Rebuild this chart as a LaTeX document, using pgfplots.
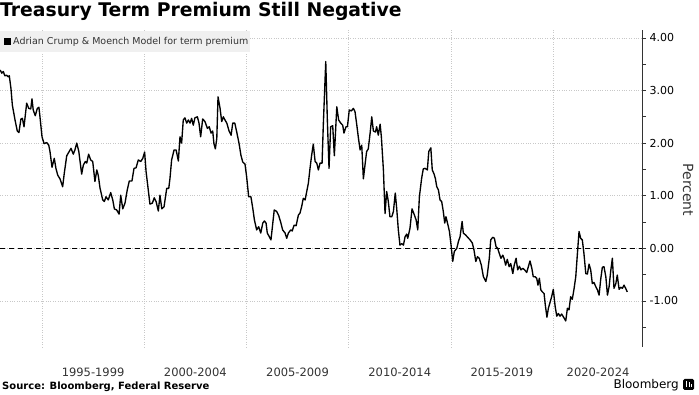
\documentclass[border=0pt]{standalone}
\usepackage{pgfplots}
\pgfplotsset{compat=1.18}
\usepackage{fontspec}
\setmainfont{DejaVu Sans}
\definecolor{gridgray}{HTML}{C8C8C8}
\definecolor{txtgray}{HTML}{333333}
\definecolor{legbg}{HTML}{F0F0F0}
\begin{document}
\begin{tikzpicture}[x=1pt,y=1pt]
\path[use as bounding box] (0,0) rectangle (699,395);
\begin{axis}[
  at={(0pt,48pt)}, anchor=south west,
  scale only axis, width=642pt, height=317pt,
  xmin=1992.945, xmax=2024.35, ymin=-1.876, ymax=4.15,
  axis y line*=right, axis x line*=bottom,
  x axis line style={draw=none},
  y axis line style={draw=black!80, line width=0.8pt},
  xtick={1995,2000,2005,2010,2015,2020}, xticklabels={},
  xtick style={draw=none},
  extra x ticks={1997.5,2002.5,2007.5,2012.5,2017.5,2022.2},
  extra x tick labels={1995-1999,2000-2004,2005-2009,2010-2014,2015-2019,2020-2024},
  extra x tick style={grid=none, tick style={draw=none}},
  xticklabel style={anchor=center, yshift=-21pt, font=\fontsize{11.5}{12}\selectfont, text=txtgray},
  ytick={-1,0,1,2,3,4},
  minor ytick={-1.5,-0.5,0.5,1.5,2.5,3.5},
  tick align=outside,
  major tick length=4pt, minor tick length=4pt,
  ytick style={draw=black!80, line width=0.6pt},
  yticklabel style={anchor=west, font=\fontsize{11}{12}\selectfont, text=black},
  yticklabel pos=right,
  /pgf/number format/.cd, fixed, fixed zerofill, precision=2, assume math mode=true,
  /pgfplots/.cd,
  xmajorgrids, ymajorgrids,
  major grid style={gridgray, dotted, line width=0.6pt},
  clip=false,
]
\draw[black, line width=0.7pt, dash pattern=on 5pt off 4pt] (axis cs:1992.945,0) -- (axis cs:2024.35,0);
\addplot[black, line width=1.35pt, line join=round] coordinates {
(1992.95,3.39)(1993.03,3.33)(1993.11,3.36)(1993.18,3.28)(1993.27,3.29)(1993.35,3.26)(1993.40,3.28)
(1993.48,3.04)(1993.55,2.72)(1993.68,2.44)(1993.79,2.23)(1993.87,2.20)(1993.97,2.46)(1994.04,2.47)
(1994.12,2.31)(1994.25,2.76)(1994.35,2.66)(1994.45,2.65)(1994.51,2.84)(1994.57,2.63)(1994.67,2.52)
(1994.77,2.66)(1994.85,2.68)(1994.90,2.50)(1995.00,2.12)(1995.10,1.99)(1995.23,2.01)(1995.33,1.96)
(1995.39,1.84)(1995.49,1.54)(1995.60,1.71)(1995.68,1.52)(1995.77,1.39)(1995.88,1.32)(1996.01,1.17)
(1996.09,1.43)(1996.21,1.76)(1996.33,1.84)(1996.42,1.90)(1996.53,1.79)(1996.61,1.87)(1996.70,2.00)
(1996.80,1.84)(1996.94,1.41)(1997.02,1.58)(1997.12,1.65)(1997.19,1.62)(1997.28,1.79)(1997.38,1.68)
(1997.48,1.65)(1997.59,1.27)(1997.68,1.49)(1997.75,1.39)(1997.84,1.14)(1997.97,0.92)(1998.05,0.89)
(1998.13,0.98)(1998.24,0.92)(1998.36,1.06)(1998.46,0.92)(1998.54,0.75)(1998.65,0.73)(1998.77,0.65)
(1998.85,1.01)(1998.95,0.75)(1999.06,0.86)(1999.17,1.11)(1999.27,1.28)(1999.40,1.28)(1999.50,1.52)
(1999.60,1.53)(1999.71,1.68)(1999.83,1.65)(1999.93,1.71)(2000.02,1.83)(2000.09,1.46)(2000.17,1.20)
(2000.28,0.84)(2000.40,0.86)(2000.49,0.96)(2000.58,0.89)(2000.69,0.71)(2000.77,1.01)(2000.86,0.75)
(2000.97,0.79)(2001.10,1.14)(2001.20,1.14)(2001.26,1.33)(2001.34,1.68)(2001.46,1.87)(2001.56,1.87)
(2001.67,1.66)(2001.75,2.12)(2001.83,2.00)(2001.91,2.44)(2001.99,2.48)(2002.08,2.38)(2002.16,2.44)
(2002.24,2.38)(2002.32,2.47)(2002.40,2.34)(2002.48,2.48)(2002.60,2.50)(2002.68,2.38)(2002.76,2.12)
(2002.86,2.46)(2002.97,2.41)(2003.09,2.28)(2003.18,2.31)(2003.27,2.19)(2003.35,2.23)(2003.41,1.99)
(2003.48,1.89)(2003.55,2.09)(2003.61,2.88)(2003.71,2.66)(2003.79,2.41)(2003.87,2.50)(2003.95,2.44)
(2004.04,2.38)(2004.15,2.23)(2004.25,2.15)(2004.33,2.38)(2004.43,2.38)(2004.52,2.22)(2004.64,1.99)
(2004.73,1.77)(2004.82,1.64)(2004.93,1.60)(2005.01,1.36)(2005.11,0.98)(2005.22,0.98)(2005.31,0.76)
(2005.39,0.54)(2005.50,0.35)(2005.60,0.41)(2005.70,0.29)(2005.80,0.48)(2005.88,0.52)(2005.96,0.48)
(2006.02,0.29)(2006.12,0.22)(2006.20,0.16)(2006.29,0.48)(2006.36,0.73)(2006.48,0.70)(2006.58,0.62)
(2006.68,0.49)(2006.77,0.35)(2006.89,0.29)(2006.97,0.19)(2007.05,0.29)(2007.17,0.35)(2007.24,0.33)
(2007.33,0.44)(2007.43,0.43)(2007.54,0.63)(2007.62,0.67)(2007.70,0.79)(2007.78,0.95)(2007.87,0.92)
(2007.95,1.08)(2008.03,1.24)(2008.11,1.52)(2008.19,1.77)(2008.27,1.98)(2008.36,1.65)(2008.44,1.62)
(2008.52,1.49)(2008.60,1.62)(2008.70,1.62)(2008.76,2.34)(2008.88,3.55)(2008.96,2.41)(2009.04,1.52)
(2009.12,2.31)(2009.22,2.33)(2009.30,1.76)(2009.42,2.69)(2009.51,2.44)(2009.61,2.38)(2009.71,2.34)
(2009.77,2.19)(2009.87,2.31)(2009.94,2.31)(2010.03,2.63)(2010.13,2.61)(2010.23,2.66)(2010.31,2.60)
(2010.40,2.34)(2010.47,2.12)(2010.56,1.87)(2010.64,1.96)(2010.72,1.32)(2010.82,1.65)(2010.88,1.84)
(2010.96,1.89)(2011.05,2.19)(2011.13,2.50)(2011.21,2.23)(2011.31,2.21)(2011.37,2.31)(2011.45,2.15)
(2011.54,2.36)(2011.60,2.12)(2011.70,1.49)(2011.78,0.66)(2011.86,1.08)(2011.94,0.89)(2012.02,0.60)
(2012.11,0.60)(2012.19,0.70)(2012.28,1.05)(2012.35,0.76)(2012.43,0.35)(2012.51,0.06)(2012.60,0.09)
(2012.68,0.06)(2012.76,0.22)(2012.84,0.27)(2012.89,0.19)(2013.00,0.38)(2013.10,0.75)(2013.20,0.65)
(2013.30,0.54)(2013.38,0.35)(2013.46,0.98)(2013.57,1.33)(2013.65,1.51)(2013.74,1.52)(2013.85,1.49)
(2013.92,1.84)(2014.02,1.91)(2014.09,1.49)(2014.18,1.41)(2014.24,1.33)(2014.31,1.17)(2014.39,1.11)
(2014.47,0.92)(2014.55,0.89)(2014.63,0.70)(2014.70,0.48)(2014.76,0.60)(2014.86,0.44)(2014.93,0.32)
(2015.01,0.06)(2015.09,-0.25)(2015.17,-0.06)(2015.29,0.00)(2015.37,0.13)(2015.45,0.22)(2015.55,0.51)
(2015.61,0.29)(2015.73,0.25)(2015.82,0.21)(2015.94,0.16)(2016.05,0.10)(2016.13,-0.03)(2016.22,-0.25)
(2016.30,-0.16)(2016.39,-0.19)(2016.49,-0.32)(2016.59,-0.54)(2016.71,-0.63)(2016.78,-0.51)(2016.88,-0.19)
(2016.95,0.16)(2017.05,0.21)(2017.13,0.19)(2017.21,0.03)(2017.29,0.00)(2017.37,-0.10)(2017.45,-0.19)
(2017.54,-0.13)(2017.60,-0.19)(2017.68,-0.32)(2017.76,-0.21)(2017.85,-0.35)(2017.93,-0.29)(2018.03,-0.48)
(2018.10,-0.32)(2018.19,-0.19)(2018.27,-0.41)(2018.35,-0.34)(2018.43,-0.41)(2018.52,-0.38)(2018.61,-0.41)
(2018.71,-0.46)(2018.79,-0.35)(2018.87,-0.24)(2018.96,-0.38)(2019.03,-0.54)(2019.12,-0.54)(2019.20,-0.57)
(2019.26,-0.70)(2019.33,-0.57)(2019.40,-0.79)(2019.48,-0.83)(2019.56,-0.86)(2019.62,-1.08)(2019.70,-1.31)
(2019.77,-1.14)(2019.85,-1.03)(2019.93,-0.92)(2020.01,-0.78)(2020.10,-1.10)(2020.18,-1.29)(2020.26,-1.24)
(2020.34,-1.29)(2020.42,-1.25)(2020.50,-1.30)(2020.62,-1.38)(2020.70,-1.14)(2020.78,-1.17)(2020.86,-0.92)
(2020.94,-0.97)(2021.03,-0.76)(2021.11,-0.54)(2021.19,-0.10)(2021.27,0.32)(2021.35,0.19)(2021.43,0.16)
(2021.51,-0.10)(2021.60,-0.48)(2021.68,-0.49)(2021.76,-0.30)(2021.84,-0.41)(2021.92,-0.67)(2022.00,-0.65)
(2022.09,-0.73)(2022.17,-0.79)(2022.25,-0.89)(2022.33,-0.59)(2022.41,-0.36)(2022.49,-0.35)(2022.58,-0.54)
(2022.66,-0.89)(2022.74,-0.73)(2022.82,-0.43)(2022.90,-0.19)(2022.98,-0.76)(2023.07,-0.67)(2023.14,-0.51)
(2023.23,-0.78)(2023.31,-0.74)(2023.39,-0.76)(2023.47,-0.70)(2023.55,-0.76)(2023.63,-0.83)
};
\end{axis}
% title
\node[anchor=base west, inner sep=0pt, font=\fontsize{18.8}{20}\selectfont\bfseries] at (0,378) {Treasury Term Premium Still Negative};
% legend
\fill[legbg] (0,343) rectangle (250,364);
\fill[black] (4,350) rectangle (11,357);
\node[anchor=west, inner sep=0pt, font=\fontsize{9.5}{11}\selectfont, text=txtgray] at (13,353.5) {Adrian Crump \& Moench Model for term premium};
% y label
\node[rotate=-90, inner sep=0pt, font=\fontsize{14}{15}\selectfont, text=txtgray] at (688,205) {Percent};
% footer
\node[anchor=base west, inner sep=0pt, font=\fontsize{10}{11}\selectfont\bfseries] at (2,5) {Source: Bloomberg, Federal Reserve};
\node[anchor=base east, inner sep=0pt, font=\fontsize{12}{13}\selectfont] at (679,6) {Bloomberg};
\fill[black, rounded corners=1.5pt] (683,5) rectangle (694,16);
\fill[white] (685.5,8) rectangle (687,14);
\fill[white] (688.5,8) rectangle (690,13);
\fill[white] (691,8) rectangle (692,11);
\end{tikzpicture}
\end{document}
